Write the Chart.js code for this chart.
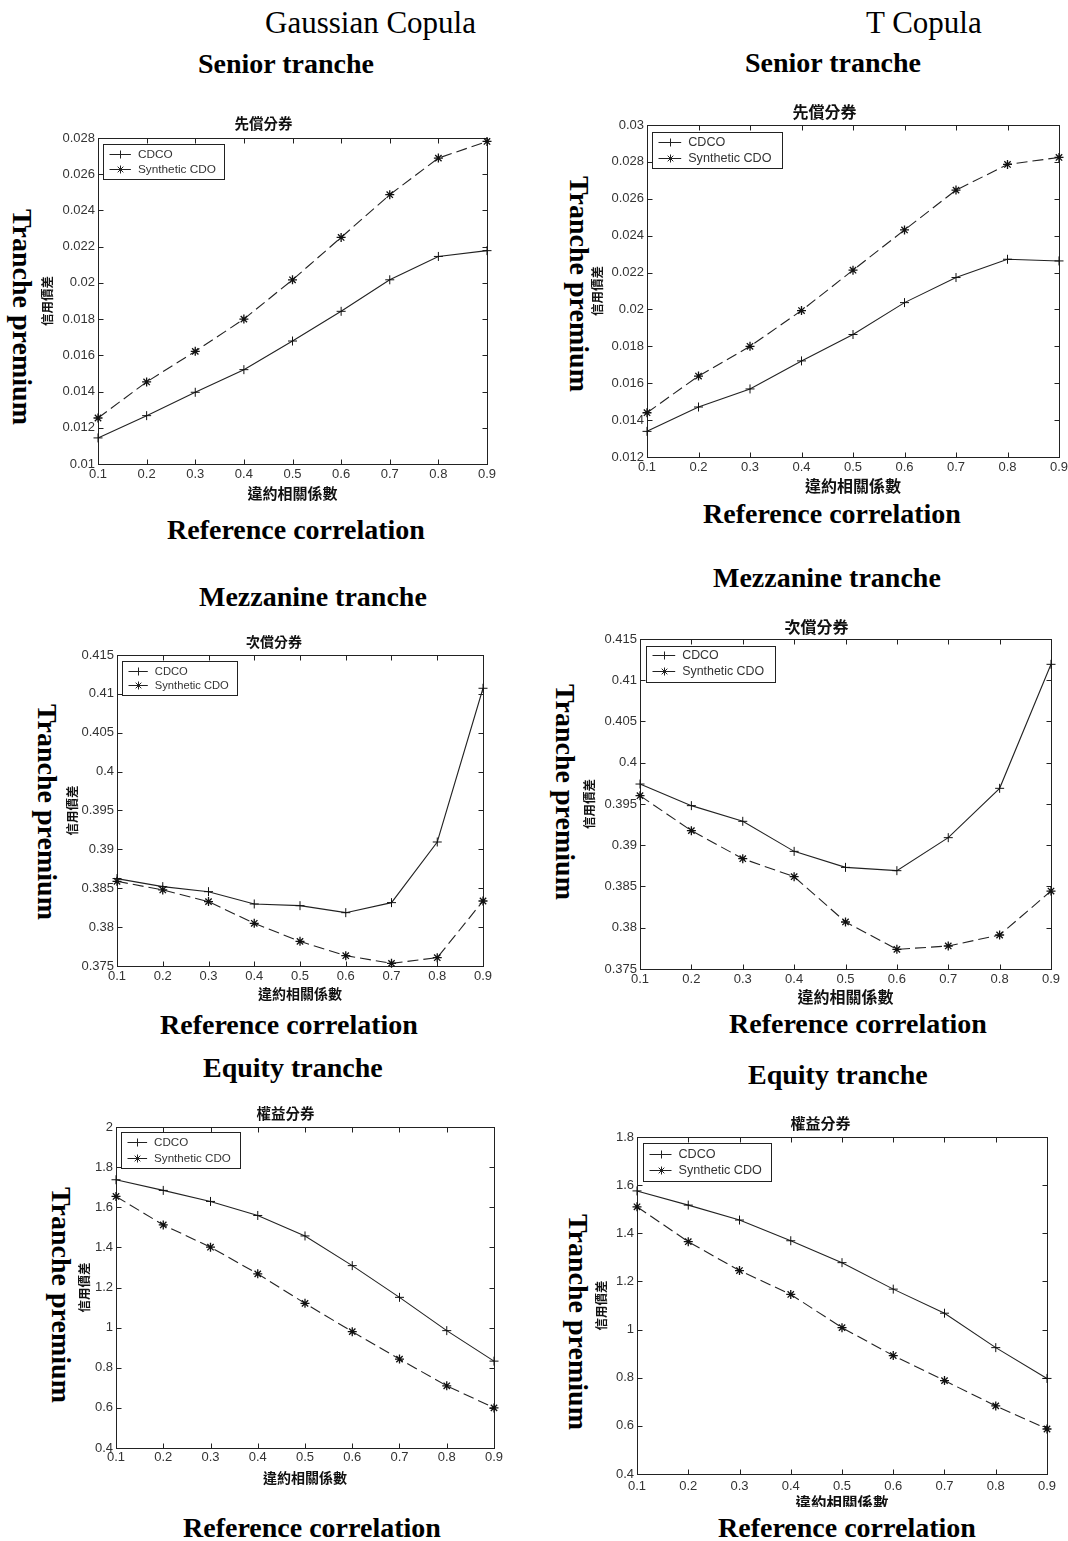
<!DOCTYPE html>
<html>
<head>
<meta charset="utf-8">
<script src="https://cdn.jsdelivr.net/npm/chart.js@4.4.1/dist/chart.umd.min.js"></script>
<style>
html,body{margin:0;padding:0;background:#fff;}
body{width:1068px;height:1541px;position:relative;overflow:hidden;}
.lbl{position:absolute;font-family:"Liberation Serif","Times New Roman",serif;line-height:1;white-space:nowrap;color:#000;}
.b{font-weight:bold;font-size:28px;}
.h{font-size:31px;}
.rot{position:absolute;font-family:"Liberation Serif","Times New Roman",serif;font-weight:bold;font-size:28px;line-height:1;white-space:nowrap;color:#000;transform:translate(-50%,-50%) rotate(90deg);}
.wrap{position:absolute;overflow:hidden;}
</style>
</head>
<body>
<script>
// ---------- data ----------
const correlation = [0.1, 0.2, 0.3, 0.4, 0.5, 0.6, 0.7, 0.8, 0.9];

const seniorGaussCDCO      = [0.01144, 0.01267, 0.01396, 0.01521, 0.01679, 0.01843, 0.02017, 0.02146, 0.02178];
const seniorGaussSynthetic = [0.01254, 0.01453, 0.01622, 0.01800, 0.02017, 0.02251, 0.02487, 0.02689, 0.02781];
const seniorTCDCO          = [0.01339, 0.01471, 0.01569, 0.01721, 0.01864, 0.02037, 0.02173, 0.02272, 0.02263];
const seniorTSynthetic     = [0.01440, 0.01639, 0.01800, 0.01994, 0.02213, 0.02431, 0.02647, 0.02786, 0.02824];

const mezzGaussCDCO        = [0.38624, 0.38521, 0.38456, 0.38298, 0.38276, 0.38186, 0.38315, 0.39095, 0.41072];
const mezzGaussSynthetic   = [0.38589, 0.38478, 0.38328, 0.38049, 0.37817, 0.37633, 0.37534, 0.37607, 0.38336];
const mezzTCDCO            = [0.39742, 0.39480, 0.39290, 0.38926, 0.38732, 0.38692, 0.39092, 0.39690, 0.41193];
const mezzTSynthetic       = [0.39601, 0.39177, 0.38837, 0.38619, 0.38070, 0.37738, 0.37779, 0.37912, 0.38445];

const equityGaussCDCO      = [1.737, 1.684, 1.629, 1.559, 1.457, 1.309, 1.151, 0.985, 0.833];
const equityGaussSynthetic = [1.654, 1.512, 1.401, 1.268, 1.121, 0.980, 0.843, 0.710, 0.600];
const equityTCDCO          = [1.576, 1.517, 1.455, 1.369, 1.278, 1.168, 1.068, 0.925, 0.797];
const equityTSynthetic     = [1.510, 1.365, 1.245, 1.146, 1.008, 0.892, 0.788, 0.683, 0.587];

const seniorGaussTicks = [0.01, 0.012, 0.014, 0.016, 0.018, 0.02, 0.022, 0.024, 0.026, 0.028];
const seniorTTicks     = [0.012, 0.014, 0.016, 0.018, 0.02, 0.022, 0.024, 0.026, 0.028, 0.03];
const mezzTicks        = [0.375, 0.38, 0.385, 0.39, 0.395, 0.4, 0.405, 0.41, 0.415];
const equityGaussTicks = [0.4, 0.6, 0.8, 1, 1.2, 1.4, 1.6, 1.8, 2];
const equityTTicks     = [0.4, 0.6, 0.8, 1, 1.2, 1.4, 1.6, 1.8];

const seriesNames = ['CDCO', 'Synthetic CDO'];
const xAxisTitle = '違約相關係數';
const yAxisTitle = '信用價差';

// ---------- layout of the six panels ----------
const panels = [
  {title:'先償分券', cdco:seniorGaussCDCO, syn:seniorGaussSynthetic, ticks:seniorGaussTicks,
   L:98, T:138, R:487, B:464, yW:58, titleOff:15, ts:14.5, xts:15, xTitlePad:4, xPad:3,
   leg:{dx:5, dy:6, fs:11.8, tx:34.4, rp:9, h:35, r0:9.3, rs:15}},
  {title:'先償分券', cdco:seniorTCDCO, syn:seniorTSynthetic, ticks:seniorTTicks,
   L:647, T:125, R:1059, B:457, yW:57, titleOff:13, ts:16, xts:16, xTitlePad:3, xPad:3,
   leg:{dx:5, dy:7, fs:12.6, tx:35.7, rp:11, h:36, r0:9, rs:16.6}},
  {title:'次償分券', cdco:mezzGaussCDCO, syn:mezzGaussSynthetic, ticks:mezzTicks,
   L:117, T:655, R:483, B:966, yW:52, titleOff:13, ts:14, xts:14, xTitlePad:6, xPad:3,
   leg:{dx:4.7, dy:6, fs:11.2, tx:32.3, rp:9, h:34, r0:9, rs:14}},
  {title:'次償分券', cdco:mezzTCDCO, syn:mezzTSynthetic, ticks:mezzTicks,
   L:640, T:639, R:1051, B:969, yW:58, titleOff:12, ts:16, xts:16, xTitlePad:4, xPad:3,
   leg:{dx:6, dy:6.7, fs:12.4, tx:35.7, rp:11, h:36, r0:8.6, rs:15.7}},
  {title:'權益分券', cdco:equityGaussCDCO, syn:equityGaussSynthetic, ticks:equityGaussTicks,
   L:116, T:1127, R:494, B:1448, yW:39, titleOff:14, ts:14.5, xts:14, xTitlePad:4, xPad:2,
   leg:{dx:4.7, dy:5.4, fs:11.6, tx:32.6, rp:10, h:35.6, r0:9.6, rs:15.4}},
  {title:'權益分券', cdco:equityTCDCO, syn:equityTSynthetic, ticks:equityTTicks,
   L:637, T:1137, R:1047, B:1474, yW:43, titleOff:14, ts:15, xts:15.5, xTitlePad:4, xPad:4.5, clipB:1507,
   leg:{dx:6, dy:5.6, fs:12.6, tx:35, rp:10, h:37.7, r0:10.4, rs:16}}
];

// ---------- outer text labels ----------
const outerLabels = [
  {t:'Gaussian Copula', c:'h', x:265, y:7},
  {t:'T Copula', c:'h', x:866, y:7},
  {t:'Senior tranche', c:'b', x:198, y:49.5},
  {t:'Senior tranche', c:'b', x:745, y:48.5},
  {t:'Reference correlation', c:'b', x:167, y:515.5},
  {t:'Reference correlation', c:'b', x:703, y:499.5},
  {t:'Mezzanine tranche', c:'b', x:199, y:582.5},
  {t:'Mezzanine tranche', c:'b', x:713, y:563.5},
  {t:'Reference correlation', c:'b', x:160, y:1010.5},
  {t:'Reference correlation', c:'b', x:729, y:1009.5},
  {t:'Equity tranche', c:'b', x:203, y:1053.5},
  {t:'Equity tranche', c:'b', x:748, y:1060.5},
  {t:'Reference correlation', c:'b', x:183, y:1513.5},
  {t:'Reference correlation', c:'b', x:718, y:1513.5}
];
const rotLabels = [
  {x:22, y:317}, {x:579, y:284}, {x:47, y:812}, {x:565, y:792}, {x:61, y:1295}, {x:578, y:1322}
];
outerLabels.forEach(l => {
  const d = document.createElement('div');
  d.className = 'lbl ' + l.c; d.textContent = l.t;
  d.style.left = l.x + 'px'; d.style.top = l.y + 'px';
  document.body.appendChild(d);
});
rotLabels.forEach(l => {
  const d = document.createElement('div');
  d.className = 'rot'; d.textContent = 'Tranche premium';
  d.style.left = l.x + 'px'; d.style.top = l.y + 'px';
  document.body.appendChild(d);
});

// ---------- plugin: box frame, inward ticks, inset legend ----------
function drawMarker(ctx, style, x, y, r) {
  ctx.beginPath();
  ctx.moveTo(x - r, y); ctx.lineTo(x + r, y);
  ctx.moveTo(x, y - r); ctx.lineTo(x, y + r);
  if (style === 'star') {
    const d = r * 0.7071;
    ctx.moveTo(x - d, y - d); ctx.lineTo(x + d, y + d);
    ctx.moveTo(x - d, y + d); ctx.lineTo(x + d, y - d);
  }
  ctx.stroke();
}
const frameAndLegend = {
  id: 'frameAndLegend',
  beforeDatasetsDraw(chart) {
    const {ctx, chartArea: a, scales: {x, y}} = chart;
    ctx.save();
    ctx.strokeStyle = '#222'; ctx.lineWidth = 1;
    const l = Math.round(a.left) + 0.5, t = Math.round(a.top) + 0.5;
    const r = Math.round(a.right) + 0.5, b = Math.round(a.bottom) + 0.5;
    ctx.strokeRect(l, t, r - l, b - t);
    const tl = 5;
    ctx.beginPath();
    x.ticks.forEach(tk => {
      const px = Math.round(x.getPixelForValue(tk.value)) + 0.5;
      ctx.moveTo(px, b); ctx.lineTo(px, b - tl);
      ctx.moveTo(px, t); ctx.lineTo(px, t + tl);
    });
    y.ticks.forEach(tk => {
      const py = Math.round(y.getPixelForValue(tk.value)) + 0.5;
      ctx.moveTo(l, py); ctx.lineTo(l + tl, py);
      ctx.moveTo(r, py); ctx.lineTo(r - tl, py);
    });
    ctx.stroke();
    ctx.restore();
  },
  afterDatasetsDraw(chart, args, o) {
    const {ctx, chartArea: a} = chart;
    const ds = chart.data.datasets;
    ctx.save();
    ctx.font = o.fs + 'px "Liberation Sans", Arial, sans-serif';
    const tw = Math.max(...ds.map(d => ctx.measureText(d.label).width));
    const bx = Math.round(a.left + o.dx) + 0.5, by = Math.round(a.top + o.dy) + 0.5;
    const bw = Math.round(o.tx + tw + o.rp), bh = Math.round(o.h);
    ctx.fillStyle = '#fff'; ctx.fillRect(bx, by, bw, bh);
    ctx.strokeStyle = '#222'; ctx.lineWidth = 1; ctx.strokeRect(bx, by, bw, bh);
    ds.forEach((d, i) => {
      const cy = Math.round(by + o.r0 + i * o.rs) + 0.5;
      const x0 = bx + 6, x1 = bx + o.tx - 7;
      ctx.setLineDash([]);
      ctx.strokeStyle = '#222';
      ctx.beginPath(); ctx.moveTo(x0, cy); ctx.lineTo(x1, cy); ctx.stroke();
      drawMarker(ctx, d.pointStyle, Math.round((x0 + x1) / 2) + 0.5, cy, 4);
      ctx.fillStyle = '#333'; ctx.textBaseline = 'middle'; ctx.textAlign = 'left';
      ctx.fillText(d.label, bx + o.tx, cy);
    });
    ctx.restore();
  }
};

// ---------- build charts ----------
const tickFont = {family: '"Liberation Sans", Arial, sans-serif', size: 13};
panels.forEach(p => {
  const topSpace = 28, xH = 42, rightPad = 14;
  const left = p.L - p.yW, top = p.T - topSpace;
  const w = p.R - p.L + p.yW + rightPad, h = p.B - p.T + topSpace + xH;
  const wrap = document.createElement('div');
  wrap.className = 'wrap';
  wrap.style.left = left + 'px'; wrap.style.top = top + 'px';
  wrap.style.width = w + 'px';
  wrap.style.height = (p.clipB ? p.clipB - top : h) + 'px';
  const cv = document.createElement('canvas');
  cv.width = w; cv.height = h; cv.style.width = w + 'px'; cv.style.height = h + 'px';
  wrap.appendChild(cv); document.body.appendChild(wrap);

  const lh = p.ts * 1.2;
  new Chart(cv, {
    type: 'line',
    data: {
      datasets: [
        {label: seriesNames[0], data: correlation.map((x, i) => ({x, y: p.cdco[i]})),
         borderColor: '#222', borderWidth: 1.1, pointStyle: 'cross', pointRadius: 4.5, pointBorderWidth: 1,
         pointBorderColor: '#111', pointBackgroundColor: '#111', fill: false, tension: 0, clip: false},
        {label: seriesNames[1], data: correlation.map((x, i) => ({x, y: p.syn[i]})),
         borderColor: '#222', borderWidth: 1.1, borderDash: [11, 5], pointStyle: 'star', pointRadius: 4.5, pointBorderWidth: 1.3,
         pointBorderColor: '#111', pointBackgroundColor: '#111', fill: false, tension: 0, clip: false}
      ]
    },
    options: {
      responsive: false, animation: false, devicePixelRatio: 1,
      layout: {padding: {left: 0, right: rightPad, top: 0, bottom: 0}},
      plugins: {
        legend: {display: false},
        tooltip: {enabled: false},
        title: {display: true, text: p.title, color: '#111',
          font: {family: '"Noto Sans CJK TC", "Noto Sans CJK SC", sans-serif', size: p.ts, weight: 'bold'},
          padding: {top: topSpace - p.titleOff - lh / 2, bottom: p.titleOff - lh / 2}},
        frameAndLegend: p.leg
      },
      scales: {
        x: {
          type: 'linear', min: correlation[0], max: correlation[correlation.length - 1],
          grid: {display: false, drawTicks: false}, border: {display: false},
          afterBuildTicks: s => { s.ticks = correlation.map(v => ({value: v})); },
          ticks: {padding: p.xPad, color: '#333', font: tickFont, maxRotation: 0, autoSkip: false,
                  callback: v => String(+v.toFixed(4))},
          title: {display: true, text: xAxisTitle, color: '#111',
                  font: {family: '"Noto Sans CJK TC", "Noto Sans CJK SC", sans-serif', size: p.xts, weight: 'bold'},
                  padding: {top: 0, bottom: p.xTitlePad}},
          afterFit: s => { s.height = xH; }
        },
        y: {
          type: 'linear', min: p.ticks[0], max: p.ticks[p.ticks.length - 1],
          grid: {display: false, drawTicks: false}, border: {display: false},
          afterBuildTicks: s => { s.ticks = p.ticks.map(v => ({value: v})); },
          ticks: {padding: 3, color: '#333', font: tickFont, autoSkip: false,
                  callback: v => String(+v.toFixed(4))},
          title: {display: true, text: yAxisTitle, color: '#111',
                  font: {family: '"Noto Sans CJK TC", "Noto Sans CJK SC", sans-serif', size: 12.5, weight: 'bold'},
                  padding: {top: 0, bottom: 0}},
          afterFit: s => { s.width = p.yW; }
        }
      }
    },
    plugins: [frameAndLegend]
  });
});
</script>
</body>
</html>
